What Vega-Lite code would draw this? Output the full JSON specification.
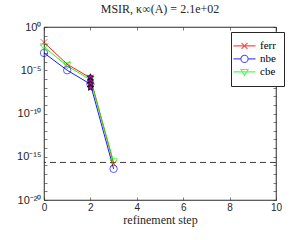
{
  "$schema": "https://vega.github.io/schema/vega-lite/v6.json",
  "width": 232,
  "height": 173,
  "autosize": {"type": "none"},
  "padding": {"left": 44, "top": 27, "right": 16, "bottom": 40},
  "background": "white",
  "title": {"text": "MSIR,  κ∞(A) = 2.1e+02", "font": "Liberation Serif", "fontSize": 12, "fontWeight": "normal", "color": "#262626", "offset": 5, "anchor": "middle"},
  "config": {
    "view": {"stroke": "#262626", "strokeWidth": 0.6},
    "axis": {"domainColor": "#262626", "tickColor": "#262626", "labelColor": "#262626", "titleColor": "#262626", "grid": false, "domainWidth": 0.6, "tickWidth": 0.6},
    "legend": {"orient": "none", "legendX": 187, "legendY": 5, "title": null, "fillColor": "white", "strokeColor": "#262626", "padding": 8, "symbolSize": 64, "symbolStrokeWidth": 1.1, "labelFont": "Liberation Serif", "labelFontSize": 11, "labelColor": "#000000", "labelOffset": 10, "rowPadding": 0}
  },
  "datasets": {
    "series": [
      {"step": 0, "value": 1.6e-2, "series": "ferr"},
      {"step": 1, "value": 5e-5, "series": "ferr"},
      {"step": 2, "value": 1.3e-6, "series": "ferr"},
      {"step": 3, "value": 1.6e-16, "series": "ferr"},
      {"step": 0, "value": 1e-3, "series": "nbe"},
      {"step": 1, "value": 1e-5, "series": "nbe"},
      {"step": 2, "value": 2.5e-7, "series": "nbe"},
      {"step": 3, "value": 4e-17, "series": "nbe"},
      {"step": 0, "value": 5e-3, "series": "cbe"},
      {"step": 1, "value": 3.2e-5, "series": "cbe"},
      {"step": 2, "value": 8e-7, "series": "cbe"},
      {"step": 3, "value": 2.5e-16, "series": "cbe"}
    ],
    "extra": [
      {"step": 2, "value": 1.6e-6},
      {"step": 2, "value": 6e-7},
      {"step": 2, "value": 2.5e-7},
      {"step": 2, "value": 1e-7}
    ],
    "eps": [{"eps": 2.2e-16}]
  },
  "resolve": {"axis": {"x": "independent", "y": "independent"}},
  "layer": [
    {
      "data": {"name": "eps"},
      "mark": {"type": "rule", "color": "#262626", "strokeDash": [6, 4], "strokeWidth": 0.9},
      "encoding": {
        "y": {"field": "eps", "type": "quantitative", "scale": {"type": "log", "domain": [1e-20, 1], "nice": false}, "axis": null}
      }
    },
    {
      "data": {"name": "series"},
      "mark": {"type": "line", "strokeWidth": 0.9},
      "encoding": {
        "x": {"field": "step", "type": "quantitative", "scale": {"domain": [0, 10], "nice": false, "zero": false},
          "axis": {"orient": "bottom", "title": "refinement step", "titleFont": "Liberation Serif", "titleFontSize": 12, "titleFontWeight": "normal", "titlePadding": 2, "values": [0, 2, 4, 6, 8, 10], "tickSize": -3, "labelFont": "Liberation Sans", "labelFontSize": 10, "labelPadding": 5, "labelFlush": false}},
        "y": {"field": "value", "type": "quantitative", "scale": {"type": "log", "domain": [1e-20, 1], "nice": false},
          "axis": {"orient": "left", "title": null, "values": [1, 1e-1, 1e-2, 1e-3, 1e-4, 1e-5, 1e-6, 1e-7, 1e-8, 1e-9, 1e-10, 1e-11, 1e-12, 1e-13, 1e-14, 1e-15, 1e-16, 1e-17, 1e-18, 1e-19, 1e-20],
            "labelExpr": "(round(log(datum.value)/LN10) % 5 != 0) ? '' : ['10⁰','10⁻⁵','10⁻¹⁰','10⁻¹⁵','10⁻²⁰'][-round(log(datum.value)/LN10)/5]",
            "tickSize": -3, "labelFont": "Liberation Sans", "labelFontSize": 11, "labelPadding": 6, "labelFlush": false}},
        "color": {"field": "series", "type": "nominal", "scale": {"domain": ["ferr", "nbe", "cbe"], "range": ["#ff0000", "#0000ff", "#00ff00"]}},
        "detail": {"field": "series"}
      }
    },
    {
      "data": {"name": "series"},
      "transform": [{"filter": "datum.series === 'ferr'"}],
      "mark": {"type": "point", "filled": false, "strokeWidth": 0.9, "size": 45, "shape": "M-1,-1L1,1M-1,1L1,-1"},
      "encoding": {
        "x": {"field": "step", "type": "quantitative", "scale": {"domain": [0, 10], "nice": false, "zero": false},
          "axis": {"orient": "top", "title": null, "labels": false, "values": [0, 2, 4, 6, 8, 10], "tickSize": -3}},
        "y": {"field": "value", "type": "quantitative", "scale": {"type": "log", "domain": [1e-20, 1], "nice": false},
          "axis": {"orient": "right", "title": null, "labels": false, "values": [1, 1e-1, 1e-2, 1e-3, 1e-4, 1e-5, 1e-6, 1e-7, 1e-8, 1e-9, 1e-10, 1e-11, 1e-12, 1e-13, 1e-14, 1e-15, 1e-16, 1e-17, 1e-18, 1e-19, 1e-20], "tickSize": -3}},
        "color": {"field": "series", "type": "nominal", "scale": {"domain": ["ferr", "nbe", "cbe"], "range": ["#ff0000", "#0000ff", "#00ff00"]}}
      }
    },
    {
      "data": {"name": "series"},
      "transform": [{"filter": "datum.series === 'nbe'"}],
      "mark": {"type": "point", "filled": false, "strokeWidth": 0.9, "size": 55, "shape": "circle"},
      "encoding": {
        "x": {"field": "step", "type": "quantitative", "scale": {"domain": [0, 10], "nice": false, "zero": false}, "axis": null},
        "y": {"field": "value", "type": "quantitative", "scale": {"type": "log", "domain": [1e-20, 1], "nice": false}, "axis": null},
        "color": {"field": "series", "type": "nominal", "scale": {"domain": ["ferr", "nbe", "cbe"], "range": ["#ff0000", "#0000ff", "#00ff00"]}}
      }
    },
    {
      "data": {"name": "series"},
      "transform": [{"filter": "datum.series === 'cbe'"}],
      "mark": {"type": "point", "filled": false, "strokeWidth": 0.9, "size": 55, "shape": "triangle-down"},
      "encoding": {
        "x": {"field": "step", "type": "quantitative", "scale": {"domain": [0, 10], "nice": false, "zero": false}, "axis": null},
        "y": {"field": "value", "type": "quantitative", "scale": {"type": "log", "domain": [1e-20, 1], "nice": false}, "axis": null},
        "color": {"field": "series", "type": "nominal", "scale": {"domain": ["ferr", "nbe", "cbe"], "range": ["#ff0000", "#0000ff", "#00ff00"]}}
      }
    },
    {
      "data": {"name": "extra"},
      "mark": {"type": "point", "filled": true, "fill": "#c000c0", "stroke": "#000000", "strokeWidth": 0.8, "size": 45, "opacity": 1, "shape": "M0,-1L0.29,-0.4L0.95,-0.31L0.48,0.15L0.59,0.81L0,0.5L-0.59,0.81L-0.48,0.15L-0.95,-0.31L-0.29,-0.4Z"},
      "encoding": {
        "x": {"field": "step", "type": "quantitative", "scale": {"domain": [0, 10], "nice": false, "zero": false}, "axis": null},
        "y": {"field": "value", "type": "quantitative", "scale": {"type": "log", "domain": [1e-20, 1], "nice": false}, "axis": null}
      }
    },
    {
      "data": {"name": "series"},
      "transform": [{"filter": "false"}],
      "mark": {"type": "point", "filled": false},
      "encoding": {
        "color": {"field": "series", "type": "nominal", "scale": {"domain": ["ferr", "nbe", "cbe"], "range": ["#ff0000", "#0000ff", "#00ff00"]}},
        "shape": {"field": "series", "type": "nominal", "scale": {"domain": ["ferr", "nbe", "cbe"], "range": ["M-2.75,0.1H2.75M-0.75,-0.65L0.75,0.85M-0.75,0.85L0.75,-0.65", "M-2.75,0.1H-0.9M0.9,0.1H2.75M0.9,0.1A0.9,0.9,0,1,1,-0.9,0.1A0.9,0.9,0,1,1,0.9,0.1", "M-2.75,0.1H2.75M-0.9,-0.5L0.9,-0.5L0,1Z"]}},
        "x": {"field": "step", "type": "quantitative", "scale": {"domain": [0, 10], "nice": false, "zero": false}, "axis": null},
        "y": {"field": "value", "type": "quantitative", "scale": {"type": "log", "domain": [1e-20, 1], "nice": false}, "axis": null}
      }
    }
  ]
}
